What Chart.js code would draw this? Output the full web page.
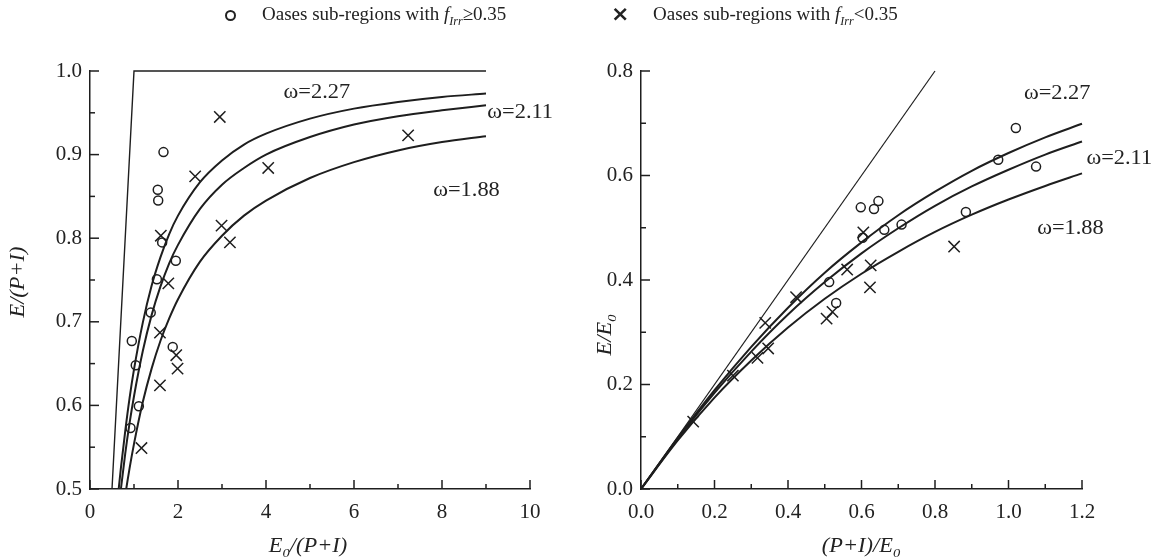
<!DOCTYPE html>
<html>
<head>
<meta charset="utf-8">
<script src="https://cdn.jsdelivr.net/npm/chart.js@4.4.1/dist/chart.umd.min.js"></script>
<style>
  html, body { margin: 0; padding: 0; background: #fff; }
  #wrap { position: relative; width: 1155px; height: 558px; overflow: hidden; }
  #left { position: absolute; left: 0; top: 0; }
  #right { position: absolute; left: 578px; top: 0; }
  .lg { position: absolute; font: 19px 'Liberation Serif', serif; color: #222; white-space: nowrap; }
  .lg sub { font-size: 12px; vertical-align: -5px; }
  .mk-circle { position: absolute; left: 225px; top: 10px; width: 7px; height: 7px; border: 2.5px solid #222; border-radius: 50%; }
  .mk-cross { position: absolute; left: 611px; top: 1px; font: bold 22px 'DejaVu Sans', sans-serif; color: #222; }
</style>
</head>
<body>
<div id="wrap">
  <canvas id="left" width="578" height="558"></canvas>
  <canvas id="right" width="577" height="558"></canvas>
  <span class="mk-circle"></span>
  <span class="lg" style="left:262px; top:3px;">Oases sub-regions with <i>f</i><sub><i>Irr</i></sub>≥0.35</span>
  <span class="mk-cross">×</span>
  <span class="lg" style="left:653px; top:3px;">Oases sub-regions with <i>f</i><sub><i>Irr</i></sub>&lt;0.35</span>
</div>
<script>
// Curvas de Fu (izquierda: E0/(P+I) vs E/(P+I))
const PHI = [0.65, 0.7, 0.8, 0.9, 1.0, 1.2, 1.4, 1.6, 1.8, 2.0, 2.5, 3.0, 3.5, 4.0, 5.0, 6.0, 7.0, 8.0, 9.0];
const LEFT_W227 = [0.499, 0.524, 0.569, 0.609, 0.643, 0.699, 0.743, 0.777, 0.805, 0.827, 0.867, 0.893, 0.912, 0.925, 0.943, 0.955, 0.963, 0.969, 0.973];
const LEFT_W211 = [0.476, 0.499, 0.542, 0.579, 0.611, 0.665, 0.708, 0.742, 0.770, 0.792, 0.835, 0.864, 0.884, 0.900, 0.921, 0.936, 0.946, 0.953, 0.959];
const LEFT_W188 = [0.434, 0.454, 0.492, 0.525, 0.554, 0.604, 0.644, 0.677, 0.704, 0.727, 0.772, 0.803, 0.827, 0.845, 0.872, 0.891, 0.905, 0.915, 0.922];
const LEFT_LIMIT_X = [0.5, 1.0, 9.0];
const LEFT_LIMIT_Y = [0.5, 1.0, 1.0];

const LEFT_CIRCLE_X = [1.67, 1.54, 1.55, 1.64, 1.95, 1.52, 1.38, 0.95, 1.88, 1.04, 1.11, 0.92];
const LEFT_CIRCLE_Y = [0.903, 0.858, 0.845, 0.795, 0.773, 0.751, 0.711, 0.677, 0.670, 0.648, 0.599, 0.573];
const LEFT_CROSS_X = [2.95, 2.39, 4.05, 7.23, 2.99, 3.18, 1.61, 1.78, 1.59, 1.96, 1.99, 1.59, 1.17];
const LEFT_CROSS_Y = [0.945, 0.874, 0.884, 0.923, 0.815, 0.795, 0.803, 0.746, 0.687, 0.660, 0.644, 0.624, 0.549];

// Panel derecho: (P+I)/E0 vs E/E0
const RIGHT_X = [0, 0.1, 0.2, 0.3, 0.4, 0.5, 0.6, 0.7, 0.8, 0.9, 1.0, 1.1, 1.2];
const RIGHT_W227 = [0, 0.098, 0.189, 0.272, 0.347, 0.414, 0.472, 0.524, 0.569, 0.609, 0.643, 0.673, 0.699];
const RIGHT_W211 = [0, 0.096, 0.184, 0.263, 0.334, 0.396, 0.451, 0.499, 0.542, 0.579, 0.611, 0.640, 0.665];
const RIGHT_W188 = [0, 0.093, 0.175, 0.246, 0.309, 0.364, 0.412, 0.454, 0.492, 0.525, 0.554, 0.580, 0.604];
const RIGHT_LIMIT_X = [0, 0.8];
const RIGHT_LIMIT_Y = [0, 0.8];

const RIGHT_CIRCLE_X = [1.020, 0.972, 1.075, 0.884, 0.709, 0.662, 0.603, 0.598, 0.634, 0.646, 0.512, 0.531];
const RIGHT_CIRCLE_Y = [0.691, 0.630, 0.617, 0.530, 0.506, 0.496, 0.481, 0.539, 0.536, 0.551, 0.396, 0.356];
const RIGHT_CROSS_X = [0.605, 0.852, 0.625, 0.623, 0.422, 0.561, 0.505, 0.521, 0.338, 0.346, 0.317, 0.250, 0.142];
const RIGHT_CROSS_Y = [0.491, 0.464, 0.428, 0.386, 0.367, 0.420, 0.326, 0.339, 0.318, 0.269, 0.251, 0.217, 0.129];

// Ticks
const LEFT_X_TICKS = [0, 2, 4, 6, 8, 10];
const LEFT_X_LABELS = ['0', '2', '4', '6', '8', '10'];
const LEFT_X_MINOR = [1, 3, 5, 7, 9];
const LEFT_Y_TICKS = [0.5, 0.6, 0.7, 0.8, 0.9, 1.0];
const LEFT_Y_LABELS = ['0.5', '0.6', '0.7', '0.8', '0.9', '1.0'];
const LEFT_Y_MINOR = [0.55, 0.65, 0.75, 0.85, 0.95];
const RIGHT_X_TICKS = [0, 0.2, 0.4, 0.6, 0.8, 1.0, 1.2];
const RIGHT_X_LABELS = ['0.0', '0.2', '0.4', '0.6', '0.8', '1.0', '1.2'];
const RIGHT_X_MINOR = [0.1, 0.3, 0.5, 0.7, 0.9, 1.1];
const RIGHT_Y_TICKS = [0, 0.2, 0.4, 0.6, 0.8];
const RIGHT_Y_LABELS = ['0.0', '0.2', '0.4', '0.6', '0.8'];
const RIGHT_Y_MINOR = [0.1, 0.3, 0.5, 0.7];

const INK = '#1e1e1e';
const FONT = "'Liberation Serif', 'Times New Roman', serif";
const STRETCH = 1.12; // el texto del original es algo más ancho que Times

const pts = (xs, ys) => xs.map((x, i) => ({ x, y: ys[i] }));

function curve(xs, ys, width, straight) {
  return {
    type: 'line', data: pts(xs, ys), borderColor: INK, borderWidth: width,
    pointRadius: 0, fill: false, tension: 0,
    cubicInterpolationMode: straight ? 'default' : 'monotone',
    clip: { left: 0, top: 3, right: 3, bottom: 0 }
  };
}

function scatter(xs, ys, style) {
  const cross = style === 'crossRot';
  return {
    type: 'scatter', data: pts(xs, ys), pointStyle: style,
    pointRadius: cross ? 8 : 4.5, borderWidth: 1.5,
    pointBorderColor: INK, pointBackgroundColor: 'rgba(0,0,0,0)', showLine: false
  };
}

// Texto con subíndices: segmentos [texto, esSubindice]
function richWidth(ctx, segs, size) {
  let w = 0;
  segs.forEach(([t, sub]) => {
    ctx.font = `italic ${sub ? Math.round(size * 0.65) : size}px ${FONT}`;
    w += ctx.measureText(t).width;
  });
  return w;
}

function drawRich(ctx, segs, cx, cy, size, rot) {
  ctx.save();
  ctx.translate(cx, cy);
  if (rot) ctx.rotate(rot);
  ctx.scale(STRETCH, 1);
  ctx.fillStyle = '#222';
  ctx.textBaseline = 'middle';
  ctx.textAlign = 'left';
  let x = -richWidth(ctx, segs, size) / 2;
  segs.forEach(([t, sub]) => {
    ctx.font = `italic ${sub ? Math.round(size * 0.65) : size}px ${FONT}`;
    ctx.fillText(t, x, sub ? size * 0.35 : 0);
    x += ctx.measureText(t).width;
  });
  ctx.restore();
}

const decorPlugin = {
  id: 'decor',
  afterDraw(chart, args, opts) {
    const ctx = chart.ctx;
    const xs = chart.scales.x, ys = chart.scales.y;
    const area = chart.chartArea;
    ctx.save();
    ctx.strokeStyle = INK;
    ctx.lineWidth = 1.5;
    // ticks hacia adentro
    const tick = (vals, len, axis) => vals.forEach(v => {
      ctx.beginPath();
      if (axis === 'x') {
        const p = xs.getPixelForValue(v);
        ctx.moveTo(p, area.bottom); ctx.lineTo(p, area.bottom - len);
      } else {
        const p = ys.getPixelForValue(v);
        ctx.moveTo(area.left, p); ctx.lineTo(area.left + len, p);
      }
      ctx.stroke();
    });
    tick(opts.xMajor, 9, 'x'); tick(opts.xMinor, 5, 'x');
    tick(opts.yMajor, 9, 'y'); tick(opts.yMinor, 5, 'y');

    // etiquetas de omega
    ctx.fillStyle = '#222';
    ctx.font = `20px ${FONT}`;
    ctx.textBaseline = 'middle';
    ctx.textAlign = 'left';
    opts.omega.forEach(o => {
      ctx.save();
      ctx.translate(xs.getPixelForValue(o.x), ys.getPixelForValue(o.y));
      ctx.scale(STRETCH, 1);
      ctx.fillText(o.text, 0, 0);
      ctx.restore();
    });
    ctx.restore();

    // títulos de ejes
    drawRich(ctx, opts.xTitle, opts.xTitlePos[0], opts.xTitlePos[1], 20, 0);
    drawRich(ctx, opts.yTitle, opts.yTitlePos[0], opts.yTitlePos[1], 20, -Math.PI / 2);
  }
};

function axis(min, max, ticks, labels, fit, isX) {
  return {
    type: 'linear', min, max,
    afterBuildTicks: s => { s.ticks = ticks.map(v => ({ value: v })); },
    afterFit: s => { if (isX) s.height = fit; else s.width = fit; },
    grid: { display: false, drawTicks: false },
    border: { display: true, color: INK, width: 1.5 },
    ticks: {
      color: '#222', padding: isX ? 11 : 8, autoSkip: false, maxRotation: 0,
      font: { family: FONT, size: 21 },
      callback: (v, i) => labels[i]
    }
  };
}

function makeChart(id, cfg) {
  return new Chart(document.getElementById(id), {
    data: { datasets: cfg.datasets },
    options: {
      responsive: false, animation: false,
      layout: { padding: { top: 71, right: cfg.padRight, left: 0, bottom: 0 } },
      plugins: {
        legend: { display: false }, tooltip: { enabled: false },
        decor: cfg.decor
      },
      scales: {
        x: axis(cfg.xMin, cfg.xMax, cfg.xTicks, cfg.xLabels, 69, true),
        y: axis(cfg.yMin, cfg.yMax, cfg.yTicks, cfg.yLabels, cfg.axisLeft, false)
      }
    },
    plugins: [decorPlugin]
  });
}

makeChart('left', {
  padRight: 48, axisLeft: 90,
  xMin: 0, xMax: 10, yMin: 0.5, yMax: 1.0,
  xTicks: LEFT_X_TICKS, xLabels: LEFT_X_LABELS,
  yTicks: LEFT_Y_TICKS, yLabels: LEFT_Y_LABELS,
  datasets: [
    curve(LEFT_LIMIT_X, LEFT_LIMIT_Y, 1.4, true),
    curve(PHI, LEFT_W227, 2),
    curve(PHI, LEFT_W211, 2),
    curve(PHI, LEFT_W188, 2),
    scatter(LEFT_CIRCLE_X, LEFT_CIRCLE_Y, 'circle'),
    scatter(LEFT_CROSS_X, LEFT_CROSS_Y, 'crossRot')
  ],
  decor: {
    xMajor: LEFT_X_TICKS, xMinor: LEFT_X_MINOR, yMajor: LEFT_Y_TICKS, yMinor: LEFT_Y_MINOR,
    omega: [
      { text: 'ω=2.27', x: 4.4, y: 0.974 },
      { text: 'ω=2.11', x: 9.03, y: 0.950 },
      { text: 'ω=1.88', x: 7.8, y: 0.857 }
    ],
    xTitle: [['E', false], ['0', true], ['/(P+I)', false]], xTitlePos: [308, 547],
    yTitle: [['E/(P+I)', false]], yTitlePos: [19, 282]
  }
});

makeChart('right', {
  padRight: 73, axisLeft: 63,
  xMin: 0, xMax: 1.2, yMin: 0, yMax: 0.8,
  xTicks: RIGHT_X_TICKS, xLabels: RIGHT_X_LABELS,
  yTicks: RIGHT_Y_TICKS, yLabels: RIGHT_Y_LABELS,
  datasets: [
    curve(RIGHT_LIMIT_X, RIGHT_LIMIT_Y, 1.2, true),
    curve(RIGHT_X, RIGHT_W227, 2),
    curve(RIGHT_X, RIGHT_W211, 2),
    curve(RIGHT_X, RIGHT_W188, 2),
    scatter(RIGHT_CIRCLE_X, RIGHT_CIRCLE_Y, 'circle'),
    scatter(RIGHT_CROSS_X, RIGHT_CROSS_Y, 'crossRot')
  ],
  decor: {
    xMajor: RIGHT_X_TICKS, xMinor: RIGHT_X_MINOR, yMajor: RIGHT_Y_TICKS, yMinor: RIGHT_Y_MINOR,
    omega: [
      { text: 'ω=2.27', x: 1.042, y: 0.756 },
      { text: 'ω=2.11', x: 1.212, y: 0.632 },
      { text: 'ω=1.88', x: 1.078, y: 0.498 }
    ],
    xTitle: [['(P+I)/E', false], ['0', true]], xTitlePos: [283, 547],
    yTitle: [['E/E', false], ['0', true]], yTitlePos: [28, 335]
  }
});
</script>
</body>
</html>
